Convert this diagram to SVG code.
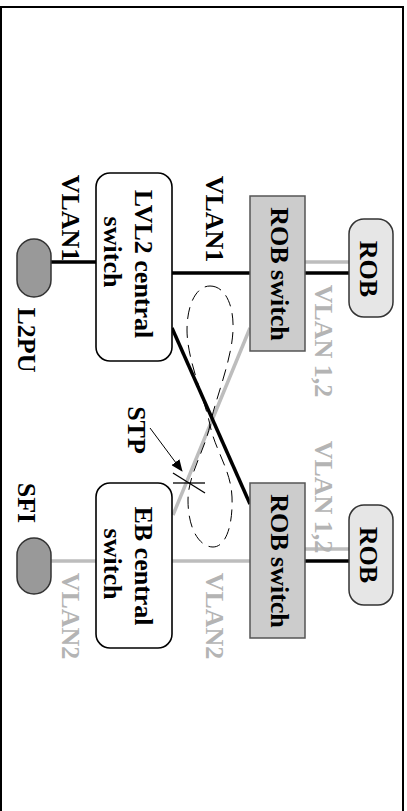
<svg xmlns="http://www.w3.org/2000/svg" width="407" height="811" viewBox="0 0 407 811">
<style>
text{font-family:"Liberation Serif","Times New Roman",serif;font-weight:bold;font-size:26px;text-anchor:middle}
.blk{fill:#000}
.gry{fill:#b4b4b4}
.sw{fill:#fff;stroke:#000;stroke-width:1.6}
.rs{fill:#cccccc;stroke:#555;stroke-width:1.5}
.rob{fill:#e6e6e6;stroke:#333;stroke-width:1.5}
.pu{fill:#999;stroke:#333;stroke-width:1.5}
.lb{stroke:#000;stroke-width:3.5;fill:none}
.lg{stroke:#bdbdbd;stroke-width:3.5;fill:none}
</style>
<defs>
<marker id="ah" markerWidth="12" markerHeight="10" refX="11" refY="5" orient="auto" markerUnits="userSpaceOnUse">
<path d="M0,0 L12,5 L0,10 Z" fill="#000"/>
</marker>
</defs>
<rect x="1" y="7" width="402" height="820" fill="none" stroke="#000" stroke-width="2"/>
<g id="connectors">
<line class="lb" x1="51" y1="262" x2="96" y2="262"/>
<line class="lb" x1="172" y1="273" x2="250" y2="273"/>
<line class="lb" x1="305" y1="273" x2="349" y2="273"/>
<line class="lg" x1="305" y1="262" x2="349" y2="262"/>
<line class="lg" x1="51" y1="561" x2="96" y2="561"/>
<line class="lg" x1="172" y1="561" x2="250" y2="561"/>
<line class="lg" x1="305" y1="549" x2="349" y2="549"/>
<line class="lb" x1="305" y1="561" x2="349" y2="561"/>
<line class="lg" x1="250" y1="328" x2="173" y2="515"/>
<line class="lb" x1="172" y1="328" x2="250" y2="504"/>
<path d="M210,286 C225,286 234,305 233,330 C232,360 215,400 210,425 C205,450 188,475 188,500 C188,530 200,547 213,547 C226,547 233,525 232,497 C231,470 215,450 210,425 C205,400 187,360 187,330 C187,305 196,286 210,286 Z" fill="none" stroke="#000" stroke-width="1" stroke-dasharray="12 7"/>
<line x1="150" y1="428" x2="182" y2="471" stroke="#000" stroke-width="1" marker-end="url(#ah)"/>
<line x1="173" y1="483" x2="205" y2="483" stroke="#000" stroke-width="1.3"/>
<line x1="173" y1="473" x2="205" y2="493" stroke="#000" stroke-width="1.3"/>
</g>
<g id="lvl2">
<rect class="sw" x="96" y="173" width="76" height="188" rx="14"/>
<text transform="translate(135,264) rotate(90)">LVL2 central</text>
<text transform="translate(104,252) rotate(90)">switch</text>
</g>
<g id="eb">
<rect class="sw" x="96" y="483" width="76" height="165" rx="14"/>
<text transform="translate(135,566) rotate(90)">EB central</text>
<text transform="translate(104,564) rotate(90)">switch</text>
</g>
<g id="robswitch1">
<rect class="rs" x="250" y="196" width="55" height="155"/>
<text transform="translate(271,274) rotate(90)">ROB switch</text>
</g>
<g id="robswitch2">
<rect class="rs" x="250" y="483" width="55" height="155"/>
<text transform="translate(271,561) rotate(90)">ROB switch</text>
</g>
<g id="rob1">
<rect class="rob" x="349" y="219" width="44" height="98" rx="15"/>
<text transform="translate(360,269) rotate(90)">ROB</text>
</g>
<g id="rob2">
<rect class="rob" x="349" y="505" width="44" height="100" rx="15"/>
<text transform="translate(360,555) rotate(90)">ROB</text>
</g>
<g id="l2pu">
<rect class="pu" x="17" y="239" width="34" height="58" rx="17" ry="17"/>
<text transform="translate(18,340) rotate(90)">L2PU</text>
</g>
<g id="sfi">
<rect class="pu" x="17" y="538" width="34" height="56" rx="17" ry="17"/>
<text transform="translate(18,503) rotate(90)">SFI</text>
</g>
<g id="labels">
<text transform="translate(62,218) rotate(90)">VLAN1</text>
<text transform="translate(206,219) rotate(90)">VLAN1</text>
<text class="gry" transform="translate(315,341) rotate(90)">VLAN 1,2</text>
<text class="gry" transform="translate(315,497) rotate(90)">VLAN 1,2</text>
<text class="gry" transform="translate(62,616) rotate(90)">VLAN2</text>
<text class="gry" transform="translate(206,616) rotate(90)">VLAN2</text>
<text transform="translate(128,430) rotate(90)">STP</text>
</g>
</svg>
